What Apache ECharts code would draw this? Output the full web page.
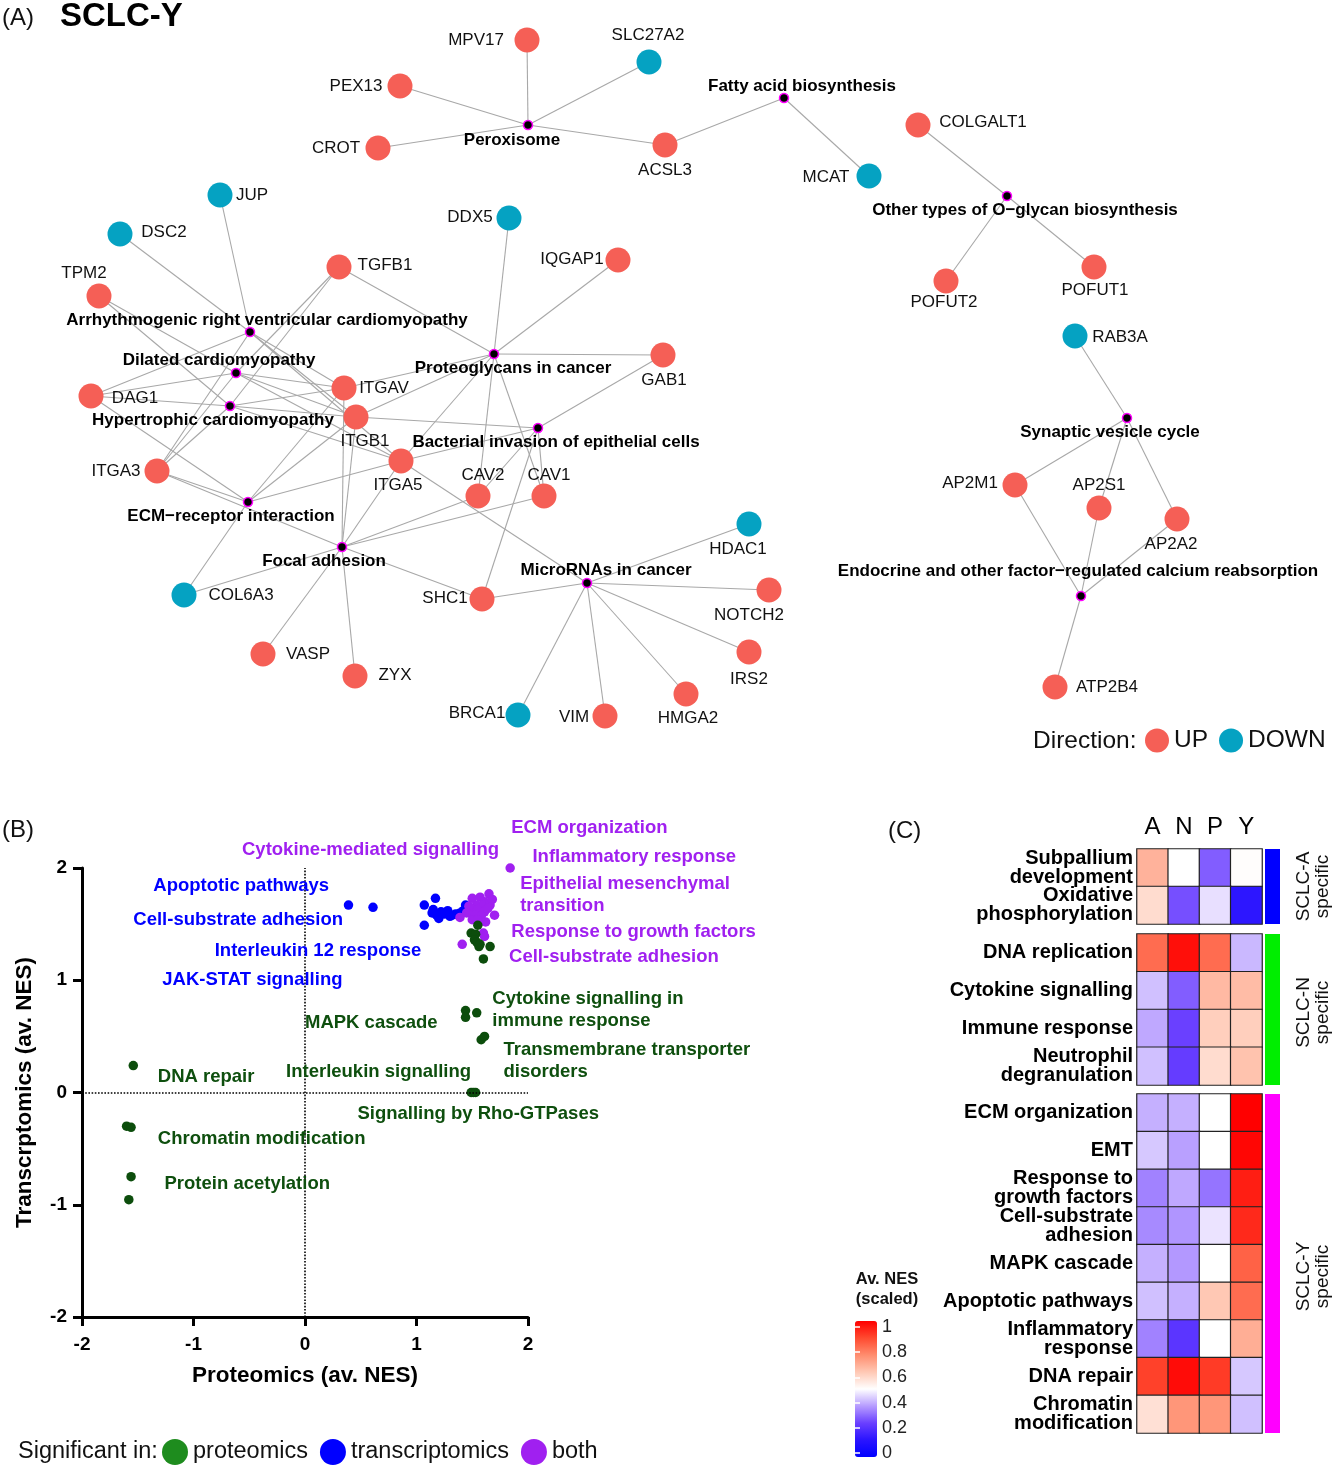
<!DOCTYPE html>
<html><head><meta charset="utf-8">
<script src="https://cdn.jsdelivr.net/npm/echarts@6/dist/echarts.min.js"></script>
<style>html,body{margin:0;padding:0;background:#fff}#c{width:1336px;height:1469px}</style>
</head><body><div id="c"></div>
<script>
// ================= Panel A: gene–pathway network =================
const upGenes = ['MPV17','PEX13','CROT','ACSL3','COLGALT1','POFUT2','POFUT1','AP2M1','AP2S1','AP2A2','ATP2B4',
  'TPM2','TGFB1','IQGAP1','GAB1','DAG1','ITGAV','ITGB1','ITGA3','ITGA5','CAV2','CAV1','VASP','ZYX','SHC1',
  'NOTCH2','IRS2','HMGA2','VIM'];
const downGenes = ['SLC27A2','MCAT','RAB3A','JUP','DSC2','DDX5','COL6A3','HDAC1','BRCA1'];
const pathwayNames = ['Peroxisome','Fatty acid biosynthesis','Other types of O\u2212glycan biosynthesis',
  'Synaptic vesicle cycle','Endocrine and other factor\u2212regulated calcium reabsorption',
  'Arrhythmogenic right ventricular cardiomyopathy','Dilated cardiomyopathy','Hypertrophic cardiomyopathy',
  'Proteoglycans in cancer','Bacterial invasion of epithelial cells','ECM\u2212receptor interaction',
  'Focal adhesion','MicroRNAs in cancer'];
const pathwayGenes = [
  ['MPV17','SLC27A2','PEX13','CROT','ACSL3'],
  ['ACSL3','MCAT'],
  ['COLGALT1','POFUT2','POFUT1'],
  ['RAB3A','AP2M1','AP2S1','AP2A2'],
  ['AP2M1','AP2S1','AP2A2','ATP2B4'],
  ['DSC2','JUP','DAG1','ITGA3','ITGAV','ITGB1','ITGA5'],
  ['TPM2','TGFB1','DAG1','ITGA3','ITGAV','ITGB1','ITGA5'],
  ['TPM2','TGFB1','DAG1','ITGA3','ITGAV','ITGB1','ITGA5'],
  ['TGFB1','DDX5','IQGAP1','GAB1','ITGAV','ITGB1','ITGA5','CAV2','CAV1'],
  ['ITGB1','ITGA5','CAV2','CAV1','SHC1','GAB1'],
  ['DAG1','ITGA3','ITGAV','ITGB1','ITGA5','COL6A3'],
  ['ITGA3','ITGAV','ITGB1','ITGA5','CAV2','CAV1','COL6A3','VASP','ZYX','SHC1'],
  ['HDAC1','NOTCH2','IRS2','HMGA2','VIM','BRCA1','SHC1','ITGA5']
];
// network layout coordinates (layout units)
const layoutXY = {
  'MPV17':[527,40],'SLC27A2':[649,62],'PEX13':[400,86],'CROT':[378,148],'ACSL3':[665,145],
  'MCAT':[869,176],'COLGALT1':[918,125],'POFUT2':[946,281],'POFUT1':[1094,267],'RAB3A':[1075,336],
  'AP2M1':[1015,485],'AP2S1':[1099,508],'AP2A2':[1177,519],'ATP2B4':[1055,687],
  'JUP':[220,195],'DSC2':[120,234],'TPM2':[99,296],'TGFB1':[339,267],'DDX5':[509,218],'IQGAP1':[618,260],
  'GAB1':[663,355],'DAG1':[91,396],'ITGAV':[344,388],'ITGB1':[356,417],'ITGA3':[157,471],'ITGA5':[401,461],
  'CAV2':[478,496],'CAV1':[544,496],'COL6A3':[184,595],'VASP':[263,654],'ZYX':[355,676],'SHC1':[482,599],
  'HDAC1':[749,524],'NOTCH2':[769,590],'IRS2':[749,652],'HMGA2':[686,694],'VIM':[605,716],'BRCA1':[518,715],
  'Peroxisome':[528,125],'Fatty acid biosynthesis':[784,98],'Other types of O\u2212glycan biosynthesis':[1007,196],
  'Synaptic vesicle cycle':[1127,418],'Endocrine and other factor\u2212regulated calcium reabsorption':[1081,596],
  'Arrhythmogenic right ventricular cardiomyopathy':[250,332],'Dilated cardiomyopathy':[236,373],
  'Hypertrophic cardiomyopathy':[230,406],'Proteoglycans in cancer':[494,354],
  'Bacterial invasion of epithelial cells':[538,428],'ECM\u2212receptor interaction':[248,502],
  'Focal adhesion':[342,547],'MicroRNAs in cancer':[587,583]
};

// ================= Panel B: scatter =================
const protPts = [[-1.54,0.24],[-1.60,-0.30],[-1.56,-0.31],[-1.56,-0.75],[-1.58,-0.955],
  [1.44,0.73],[1.44,0.67],[1.54,0.71],[1.58,0.47],[1.61,0.50],
  [1.49,0.0],[1.51,0.0],[1.53,0.0],
  [1.55,1.49],[1.49,1.42],[1.53,1.41],[1.52,1.36],[1.56,1.30],[1.66,1.30],[1.60,1.19],[1.54,1.34],[1.57,1.32]];
const transPts = [[0.39,1.67],[0.61,1.65],[1.07,1.67],[1.17,1.73],[1.07,1.49],[1.14,1.60],[1.18,1.58],
  [1.15,1.63],[1.22,1.61],[1.25,1.59],[1.28,1.62],[1.32,1.58],[1.35,1.59],[1.39,1.60],[1.42,1.62],
  [1.44,1.67],[1.20,1.55],[1.30,1.57]];
const bothPts = [[1.84,2.00],[1.65,1.77],[1.50,1.73],[1.57,1.74],[1.61,1.70],[1.54,1.67],[1.60,1.67],
  [1.66,1.67],[1.50,1.63],[1.55,1.63],[1.61,1.61],[1.52,1.58],[1.58,1.57],[1.70,1.58],[1.39,1.56],
  [1.50,1.54],[1.55,1.54],[1.64,1.64],[1.47,1.66],[1.62,1.52],[1.61,1.39],[1.60,1.42],[1.41,1.32],
  [1.45,1.60],[1.68,1.72]];
const annotBoth = [['ECM organization',1.85,2.36],['Cytokine-mediated signalling',-0.565,2.16],
  ['Inflammatory response',2.04,2.10],['Epithelial mesenchymal\ntransition',1.93,1.76],
  ['Response to growth factors',1.85,1.43],['Cell-substrate adhesion',1.83,1.21]];
const annotTrans = [['Apoptotic pathways',-1.36,1.84],['Cell-substrate adhesion',-1.54,1.54],
  ['Interleukin 12 response',-0.81,1.26],['JAK-STAT signalling',-1.28,1.00]];
const annotProt = [['Cytokine signalling in\nimmune response',1.68,0.74],['MAPK cascade',0.0,0.62],
  ['Transmembrane transporter\ndisorders',1.78,0.28],['DNA repair',-1.32,0.14],
  ['Interleukin signalling',-0.17,0.18],['Signalling by Rho-GTPases',0.47,-0.19],
  ['Chromatin modification',-1.32,-0.41],['Protein acetylation',-1.26,-0.81]];

// ================= Panel C: heatmap =================
const heatCols = ['A','N','P','Y'];
const rowsA = ['Subpallium\ndevelopment','Oxidative\nphosphorylation'];
const valsA = [[0.67,0.50,0.29,0.505],[0.58,0.27,0.46,0.13]];
const rowsN = ['DNA replication','Cytokine signalling','Immune response','Neutrophil\ndegranulation'];
const valsN = [[0.81,0.975,0.81,0.41],[0.42,0.29,0.656,0.65],[0.39,0.25,0.61,0.61],[0.42,0.24,0.58,0.635]];
const rowsY = ['ECM organization','EMT','Response to\ngrowth factors','Cell-substrate\nadhesion','MAPK cascade',
  'Apoptotic pathways','Inflammatory\nresponse','DNA repair','Chromatin\nmodification'];
const valsY = [[0.40,0.40,0.50,1.0],[0.43,0.38,0.50,0.99],[0.34,0.39,0.32,0.95],[0.35,0.365,0.465,0.93],
  [0.40,0.37,0.50,0.83],[0.42,0.40,0.625,0.81],[0.34,0.22,0.50,0.68],[0.89,0.98,0.90,0.43],[0.57,0.73,0.73,0.42]];
const groupLabels = ['SCLC-A\nspecific','SCLC-N\nspecific','SCLC-Y\nspecific'];

// ================= styles =================
const FONT = 'Liberation Sans, Arial, sans-serif';
const UPC = '#f55f56', DOWNC = '#05a2c2';
const GREEN_PT = '#0c4d0c', GREEN_TXT = '#0e4f0e', BLUE = '#0000ff', PURPLE = '#a020f0';
const labelOffset = {
  'MPV17':[-51,0],'SLC27A2':[-1,-27],'PEX13':[-44,0],'CROT':[-42,0],'ACSL3':[0,25],'MCAT':[-43,1],
  'COLGALT1':[65,-3],'POFUT2':[-2,21],'POFUT1':[1,23],'RAB3A':[45,1],'AP2M1':[-45,-2],'AP2S1':[0,-23],
  'AP2A2':[-6,25],'ATP2B4':[52,0],'JUP':[32,0],'DSC2':[44,-2],'TPM2':[-15,-23],'TGFB1':[46,-2],
  'DDX5':[-39,-1],'IQGAP1':[-46,-1],'GAB1':[1,25],'DAG1':[44,2],'ITGAV':[40,0],'ITGB1':[9,24],
  'ITGA3':[-41,0],'ITGA5':[-3,24],'CAV2':[5,-21],'CAV1':[5,-21],'COL6A3':[57,0],'VASP':[45,0],
  'ZYX':[40,-1],'SHC1':[-37,-1],'HDAC1':[-11,25],'NOTCH2':[-20,25],'IRS2':[0,27],'HMGA2':[2,24],
  'VIM':[-31,1],'BRCA1':[-41,-2],
  'Peroxisome':[-16,15],'Fatty acid biosynthesis':[18,-12],'Other types of O\u2212glycan biosynthesis':[18,14],
  'Synaptic vesicle cycle':[-17,14],'Endocrine and other factor\u2212regulated calcium reabsorption':[-3,-25],
  'Arrhythmogenic right ventricular cardiomyopathy':[17,-12],'Dilated cardiomyopathy':[-17,-13],
  'Hypertrophic cardiomyopathy':[-17,14],'Proteoglycans in cancer':[19,14],
  'Bacterial invasion of epithelial cells':[18,14],'ECM\u2212receptor interaction':[-17,14],
  'Focal adhesion':[-18,14],'MicroRNAs in cancer':[19,-13]
};

// ---------- build graph ----------
const nodes = [];
function geneNode(g, cat){
  return {name:g, value:layoutXY[g], category:cat, symbolSize:25,
    label:{show:true, position:'inside', offset:labelOffset[g], fontSize:17, color:'#111',
      align:'center', verticalAlign:'middle', fontFamily:FONT}};
}
upGenes.forEach(g => nodes.push(geneNode(g,0)));
downGenes.forEach(g => nodes.push(geneNode(g,1)));
pathwayNames.forEach(p => nodes.push({name:p, value:layoutXY[p], category:2, symbolSize:9,
  label:{show:true, position:'inside', offset:labelOffset[p], fontSize:17, fontWeight:'bold', color:'#000',
    align:'center', verticalAlign:'middle', fontFamily:FONT}}));
const links = [];
pathwayNames.forEach((p,i) => pathwayGenes[i].forEach(g => links.push({source:p, target:g})));

// ---------- heatmap helpers ----------
function heatData(vals){ const d=[]; vals.forEach((r,ri)=>r.forEach((v,ci)=>d.push([ci,ri,v]))); return d; }
const heatColors = ['#0000ff','#2a14ff','#6a40ff','#b69cff','#ffffff','#ffc8b4','#ff8c6e','#ff4a30','#ff0000'];

const gridsC = [{top:849,h:75},{top:934,h:151},{top:1094,h:339}];
const groupLabelShift = [0,3,13];
const rowSets = [rowsA, rowsN, rowsY];
const valSets = [valsA, valsN, valsY];
const barColors = ['#0000ff','#00ee00','#ff00ff'];

const grid = [
  {left:0, top:0, width:1336, height:1469},
  {left:82, top:868, width:446, height:449},
  ...gridsC.map(g => ({left:1137, top:g.top, width:125, height:g.h})),
  {left:855, top:1327, width:22, height:126}
];

const xAxis = [
  {gridIndex:0, type:'value', min:0, max:1336, show:false},
  {gridIndex:1, type:'value', min:-2, max:2, interval:1,
    axisLine:{onZero:false, lineStyle:{color:'#000', width:3}}, axisTick:{length:9, lineStyle:{width:3,color:'#000'}},
    axisLabel:{fontSize:19, fontWeight:'bold', color:'#000', margin:18, fontFamily:FONT},
    splitLine:{show:false},
    name:'Proteomics (av. NES)', nameLocation:'middle', nameGap:47,
    nameTextStyle:{fontSize:22.5, fontWeight:'bold', color:'#000', fontFamily:FONT}},
  ...gridsC.map((g,i) => ({gridIndex:2+i, type:'category', data:heatCols, position:'top', show:i===0,
    axisLine:{show:false}, axisTick:{show:false},
    axisLabel:{fontSize:24, color:'#000', margin:10, fontFamily:FONT}, splitLine:{show:false}})),
  {gridIndex:5, type:'value', min:0, max:1, show:false}
];
const yAxis = [
  {gridIndex:0, type:'value', min:0, max:1469, inverse:true, show:false},
  {gridIndex:1, type:'value', min:-2, max:2, interval:1,
    axisLine:{onZero:false, lineStyle:{color:'#000', width:3}}, axisTick:{length:9, lineStyle:{width:3,color:'#000'}},
    axisLabel:{fontSize:19, fontWeight:'bold', color:'#000', margin:15, fontFamily:FONT},
    splitLine:{show:false},
    name:'Transcrptomics (av. NES)', nameLocation:'middle', nameGap:46, nameRotate:90,
    nameTextStyle:{fontSize:22.5, fontWeight:'bold', color:'#000', fontFamily:FONT}},
  ...gridsC.map((g,i) => ({gridIndex:2+i, type:'category', data:rowSets[i], inverse:true,
    axisLine:{show:false}, axisTick:{show:false},
    axisLabel:{interval:0, fontSize:20, fontWeight:'bold', color:'#000', margin:4, lineHeight:19, fontFamily:FONT},
    splitLine:{show:false}})),
  {gridIndex:5, type:'value', min:0, max:1, interval:0.2, position:'right', z:10,
    axisLine:{show:false}, axisTick:{show:true, inside:true, length:5, lineStyle:{color:'#fff', width:1.5}},
    axisLabel:{fontSize:18, color:'#222', margin:5, fontFamily:FONT, formatter:v=>String(+v.toFixed(1))},
    splitLine:{show:false}},
  {gridIndex:5, type:'value', min:0, max:1, interval:0.2, position:'left', z:10,
    axisLine:{show:false}, axisTick:{show:true, inside:true, length:5, lineStyle:{color:'#fff', width:1.5}},
    axisLabel:{show:false}, splitLine:{show:false}}
];

function annotSeries(arr, color){
  return {type:'scatter', xAxisIndex:1, yAxisIndex:1, clip:false, silent:true, symbolSize:0,
    itemStyle:{color:color, opacity:1}, z:5,
    data: arr.map(a => ({name:a[0], value:[a[1],a[2]]})),
    label:{show:true, position:'right', distance:0, formatter:p=>p.name, color:color, opacity:1,
      fontWeight:'bold', fontSize:18.5, lineHeight:22, fontFamily:FONT, align:'left'}};
}

const series = [
  {type:'graph', coordinateSystem:'cartesian2d', xAxisIndex:0, yAxisIndex:0, layout:'none', silent:true,
    categories:[{name:'UP', itemStyle:{color:UPC}}, {name:'DOWN', itemStyle:{color:DOWNC}},
      {name:'pathway', itemStyle:{color:'#000', borderColor:'#ff00ff', borderWidth:1.5}}],
    data:nodes, links:links, edgeSymbol:['none','none'],
    lineStyle:{color:'#a8a8a8', width:1.1, opacity:1, curveness:0}},
  {name:'transcriptomics', type:'scatter', xAxisIndex:1, yAxisIndex:1, clip:false, data:transPts,
    symbolSize:9.5, itemStyle:{color:BLUE, opacity:1}, z:3},
  {name:'both', type:'scatter', xAxisIndex:1, yAxisIndex:1, clip:false, data:bothPts,
    symbolSize:9.5, itemStyle:{color:PURPLE, opacity:1}, z:3},
  {name:'proteomics', type:'scatter', xAxisIndex:1, yAxisIndex:1, clip:false, data:protPts,
    symbolSize:9.5, itemStyle:{color:GREEN_PT, opacity:1}, z:3,
    markLine:{silent:true, symbol:['none','none'], label:{show:false}, animation:false,
      lineStyle:{type:'dotted', color:'#000', width:1.6, opacity:1},
      data:[{xAxis:0},{yAxis:0}]}},
  annotSeries(annotProt, GREEN_TXT),
  annotSeries(annotTrans, BLUE),
  annotSeries(annotBoth, PURPLE),
  ...valSets.map((v,i) => ({type:'heatmap', xAxisIndex:2+i, yAxisIndex:2+i, data:heatData(v), silent:true,
    itemStyle:{borderColor:'#222', borderWidth:1.2}, label:{show:false}}))
];

const graphic = [
  {type:'text', x:2, y:18, style:{text:'(A)', fontSize:24, fontFamily:FONT, fill:'#111', verticalAlign:'middle'}},
  {type:'text', x:60, y:17, style:{text:'SCLC-Y', fontSize:33, fontWeight:'bold', fontFamily:FONT, fill:'#000', verticalAlign:'middle'}},
  {type:'text', x:1033, y:741, style:{text:'Direction:', fontSize:24.5, fontFamily:FONT, fill:'#111', verticalAlign:'middle'}},
  {type:'text', x:2, y:830, style:{text:'(B)', fontSize:24, fontFamily:FONT, fill:'#111', verticalAlign:'middle'}},
  {type:'text', x:18, y:1452, style:{text:'Significant in:', fontSize:23.5, fontFamily:FONT, fill:'#111', verticalAlign:'middle'}},
  {type:'text', x:888, y:831, style:{text:'(C)', fontSize:24, fontFamily:FONT, fill:'#111', verticalAlign:'middle'}},
  {type:'text', x:887, y:1289, style:{text:'Av. NES\n(scaled)', fontSize:16.5, lineHeight:20, fontWeight:'bold', fontFamily:FONT, fill:'#111', align:'center', verticalAlign:'middle'}},
  ...gridsC.map((g,i) => ({type:'rect', shape:{x:1265, y:g.top, width:15, height:g.h}, style:{fill:barColors[i]}})),
  ...gridsC.map((g,i) => ({type:'text', x:1313, y:g.top + g.h/2 + groupLabelShift[i], rotation:Math.PI/2,
    style:{text:groupLabels[i], fontSize:19, lineHeight:19, fontFamily:FONT, fill:'#111', align:'center', verticalAlign:'middle'}}))
];

const option = {
  animation:false,
  backgroundColor:'#fff',
  textStyle:{fontFamily:FONT},
  grid, xAxis, yAxis, series, graphic,
  legend:[
    {data:['UP','DOWN'], left:1145, top:728, padding:0, icon:'circle', itemWidth:24, itemHeight:24, itemGap:11,
      selectedMode:false, textStyle:{fontSize:24.5, color:'#111', fontFamily:FONT}},
    {data:[{name:'proteomics', itemStyle:{color:'#1e8c1e'}}, {name:'transcriptomics', itemStyle:{color:'#0000ff'}},
      {name:'both', itemStyle:{color:'#a020f0'}}],
      left:162, top:1439, padding:0, icon:'circle', itemWidth:26, itemHeight:26, itemGap:12,
      selectedMode:false, textStyle:{fontSize:23.5, color:'#111', fontFamily:FONT}}
  ],
  visualMap:{type:'continuous', min:0, max:1, seriesIndex:[7,8,9], left:855, top:1321, itemWidth:22,
    itemHeight:136, calculable:false, padding:0, inRange:{color:heatColors}, hoverLink:false}
};
const chart = echarts.init(document.getElementById('c'), null, {renderer:'canvas'});
chart.setOption(option);
</script></body></html>
